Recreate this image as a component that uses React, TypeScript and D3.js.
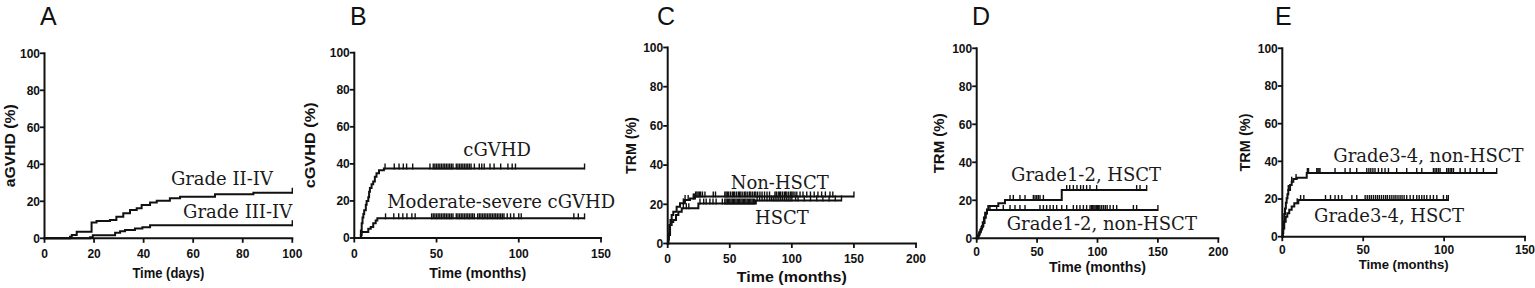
import React from 'react';
import * as d3 from 'd3';

type Pt = [number, number];

// ---------- Panel A (days) ----------
const aGradeIIIV: Pt[] = [[0,0],[10.3,0.9],[11,1.8],[13,3.6],[19,8.6],[21,9.4],[26.4,9.9],[29,11.7],[31.8,13.5],[34.5,15.3],[37.2,16.2],[39.2,18],[42.6,19.4],[45.3,20.3],[50.6,21.6],[54.7,22.5],[68.8,23.8],[84.3,24.6],[100,24.6]];
const aGradeIIIIV: Pt[] = [[0,0],[18.4,0.6],[19.5,1.6],[28.5,3],[30.5,3.8],[32.5,4.5],[36.5,5.3],[39.5,6],[42.6,7],[100,7]];
const aCensII: number[] = [100];
const aCensIII: number[] = [100];

// ---------- Panel B (months) ----------
const bCGVHD: Pt[] = [[0,0],[3.5,0],[4,4],[4.5,8],[5,11],[5.5,13],[6,15],[7,18],[7.5,20],[8.5,22],[9,25],[9.5,27],[10.5,29],[11.5,30.5],[12.5,33],[13.5,35],[15,36.5],[18,37.5],[140,37.5]];
const bModSev: Pt[] = [[0,0],[3.5,0],[4,1.5],[4.5,3.3],[8,3.3],[8.5,5],[10,6],[11.5,8],[13,9.5],[14,10.6],[140,10.6]];
const bCensCGVHD: number[] = [18.7,24.3,27.2,29.8,31.8,35.5,46,48,49,50,51,52,53,54,55,56,57,58,59,60,62,63,64,65,66,67,68,69,70,71,73,76,77.5,79,82.5,85,89,93.4,96,98,140];
const bCensModSev: number[] = [19,24,27,29.5,32,35,37,47,48,49,50,51,52,53,54,55,56,57,58,59,60,62,63,64,65,66,67,68,69,70,71,72,73,75,76,77,78,79,80,81,82,83,84,85,86,87,88,89,90,91,93,95,97,100,101.5,133.5,136.2,140];

// ---------- Panel C (months) ----------
const cNonHSCT: Pt[] = [[0,0],[0.5,5],[1.3,9.4],[2.2,12],[3.2,14.5],[4.5,16.2],[7.2,18.8],[9.9,20.5],[13.9,22.2],[18,23],[22,24],[150,24]];
const cHSCT: Pt[] = [[0,0],[0.5,2],[1,4.3],[1.9,9.4],[3.2,11],[4.5,12],[6.7,14.5],[8.6,16.2],[11.3,18],[24.7,20.4],[71,22],[140,22]];
const cCensNon: number[] = [12.6,14,16.5,20.6,21.5,22.5,23.5,24.5,25.5,26.5,28,30,36.7,38.5,46,47,48,49,50.5,52,53,54,55.5,57,58,59,60.5,62,63,64.5,66,67,68.5,70,71,72.5,74.3,76,78,80,82,86.4,87.5,89,90,91,92.5,94,95,96,97.5,99,100,101,102.5,104,106.6,109,112,115,118,121,124,127,130.7,133,150];
const cCensHSCT: number[] = [12.6,15,17,26,29,31,34,36.5,39,44,46,47,48,49,50,51,52,53,54,55,56,57,58,59,60,61,62,63,64,65,66,67,68,69,70,72,74,76,78,80,82,83.5,85,86.5,88,89.5,91,92.5,94,95.5,97,98.5,100,103,105,110,115,120,125,130,135,140];

// ---------- Panel D (months) ----------
const dHSCT: Pt[] = [[0,0],[1,1.5],[2,3],[3,4.5],[4,6],[5,8.5],[6,11],[7,13.5],[8.5,15],[9.6,17],[17.9,18.4],[23.4,20.2],[70.4,25.4],[140.7,25.4]];
const dNonHSCT: Pt[] = [[0,0],[1.5,2],[2.5,3.5],[3.5,5],[4.5,6.5],[5.5,8],[6.5,10.8],[7.5,13],[8.5,14.9],[150,14.9]];
const dCensHSCT: number[] = [27.6,30.3,35.8,40,46.9,48.3,49.7,51,52.4,55.2,74.5,77,80,83,86,88.3,91,93.8,99.3,132.4,135.2,140.7];
const dCensNon: number[] = [8.3,11,16.5,22,27.6,31.7,35.8,40,52.4,55.2,57.9,60.7,63.4,66.2,70.4,74.5,80,82.8,85.5,88.3,91,93.8,95,96,97,98,99,100,101,102,103.5,105,106.5,108,110.4,113.1,115.9,129.7,132.4,150];

// ---------- Panel E (months) ----------
const eNonHSCT: Pt[] = [[0,0],[0.3,4],[0.6,8],[1.2,12],[1.67,15],[2.2,18],[2.7,20.4],[3.2,22.5],[3.7,24.8],[4.8,27.4],[5.8,29.2],[6.8,30.6],[8.9,31.3],[15.1,33.8],[132.5,33.8]];
const eHSCT: Pt[] = [[0,0],[0.3,2],[0.6,4.4],[1.2,8],[2.1,10.6],[3.1,12.4],[4.3,14.3],[5.8,16],[7.4,17.7],[9.9,19.5],[102.6,19.5]];
const eCensNon: number[] = [3.7,5.8,8.5,15.5,16.2,21.3,22,22.7,23.3,32.6,38.8,41.9,46,52.2,53.5,54.7,56,57.3,59.4,61.5,63.5,65.6,70.7,76.9,83.1,86.2,93.4,94.4,95.4,96.5,97.5,101.6,102.6,103.7,104.7,105.8,109.9,113,116.1,120.2,124.3,132.5];
const eCensHSCT: number[] = [9.2,11.3,13.3,26.7,29.8,32.6,34.7,36.8,43,46,51.2,52.5,53.8,55,56.3,57.6,58.8,60,61.3,62.6,63.9,65,66.4,67.7,69,70.2,71.5,72.8,74,75.3,76.9,79,81,83.1,84.6,86.2,87.7,89.3,91.4,93.4,95.5,99.6,101.6,102.6];

// ---------- Tick values / labels ----------
const yTicks = [0, 20, 40, 60, 80, 100];
const xTicksA = [0, 20, 40, 60, 80, 100];
const xTicks150 = [0, 50, 100, 150];
const xTicks200 = [0, 50, 100, 150, 200];

interface Series { pts: Pt[]; cens: number[]; label: string; lx: number; ly: number; }
interface PanelCfg {
  letter: string; letterX: number;
  left: number; right: number; top: number; bottom: number;
  xMax: number; xTicks: number[];
  yTitle: string; yTitleX: number; yTitleLen: number;
  xTitle: string; xTitleBase: number; xTitleLen: number; xTitleSize: number;
  xLabelBase: number;
  series: Series[];
}

const panels: PanelCfg[] = [
  { letter: 'A', letterX: 40, left: 44.5, right: 292.3, top: 53.3, bottom: 238.3, xMax: 100, xTicks: xTicksA,
    yTitle: 'aGVHD (%)', yTitleX: 15, yTitleLen: 83, xTitle: 'Time (days)', xTitleBase: 278, xTitleLen: 72, xTitleSize: 15, xLabelBase: 257.5,
    series: [
      { pts: aGradeIIIV, cens: aCensII, label: 'Grade II-IV', lx: 51, ly: 28.8 },
      { pts: aGradeIIIIV, cens: aCensIII, label: 'Grade III-IV', lx: 55.9, ly: 11 },
    ] },
  { letter: 'B', letterX: 350, left: 354.3, right: 601, top: 52.7, bottom: 238, xMax: 150, xTicks: xTicks150,
    yTitle: 'cGVHD (%)', yTitleX: 315, yTitleLen: 86, xTitle: 'Time (months)', xTitleBase: 278, xTitleLen: 97, xTitleSize: 15, xLabelBase: 257.5,
    series: [
      { pts: bCGVHD, cens: bCensCGVHD, label: 'cGVHD', lx: 66.3, ly: 44.3 },
      { pts: bModSev, cens: bCensModSev, label: 'Moderate-severe cGVHD', lx: 20, ly: 16.4 },
    ] },
  { letter: 'C', letterX: 657, left: 667.7, right: 916, top: 47.5, bottom: 243.5, xMax: 200, xTicks: xTicks200,
    yTitle: 'TRM (%)', yTitleX: 636, yTitleLen: 57, xTitle: 'Time (months)', xTitleBase: 282, xTitleLen: 110, xTitleSize: 15, xLabelBase: 262.5,
    series: [
      { pts: cNonHSCT, cens: cCensNon, label: 'Non-HSCT', lx: 50.7, ly: 27.7 },
      { pts: cHSCT, cens: cCensHSCT, label: 'HSCT', lx: 70.3, ly: 9.9 },
    ] },
  { letter: 'D', letterX: 972, left: 976.7, right: 1218.3, top: 48.3, bottom: 238.3, xMax: 200, xTicks: xTicks200,
    yTitle: 'TRM (%)', yTitleX: 944, yTitleLen: 60, xTitle: 'Time (months)', xTitleBase: 272, xTitleLen: 97, xTitleSize: 14, xLabelBase: 256,
    series: [
      { pts: dHSCT, cens: dCensHSCT, label: 'Grade1-2, HSCT', lx: 28.4, ly: 30.3 },
      { pts: dNonHSCT, cens: dCensNon, label: 'Grade1-2, non-HSCT', lx: 24.8, ly: 4.4 },
    ] },
  { letter: 'E', letterX: 1275, left: 1282.3, right: 1525, top: 48.3, bottom: 236.7, xMax: 150, xTicks: xTicks150,
    yTitle: 'TRM (%)', yTitleX: 1250, yTitleLen: 58, xTitle: 'Time (months)', xTitleBase: 268.5, xTitleLen: 90, xTitleSize: 13, xLabelBase: 254,
    series: [
      { pts: eNonHSCT, cens: eCensNon, label: 'Grade3-4, non-HSCT', lx: 31.5, ly: 39.8 },
      { pts: eHSCT, cens: eCensHSCT, label: 'Grade3-4, HSCT', lx: 19.6, ly: 8 },
    ] },
];

const SANS = "'Liberation Sans', Arial, Helvetica, sans-serif";
const SERIF = "'DejaVu Serif', serif";

function valueAt(pts: Pt[], t: number): number {
  let v = pts[0][1];
  for (const [tx, ty] of pts) if (tx <= t + 1e-9) v = ty;
  return v;
}

function Panel({ p }: { p: PanelCfg }) {
  const x = d3.scaleLinear().domain([0, p.xMax]).range([p.left, p.right]);
  const y = d3.scaleLinear().domain([0, 100]).range([p.bottom, p.top]);
  const line = d3.line<Pt>().x(d => x(d[0])).y(d => y(d[1])).curve(d3.curveStepAfter);
  const midY = (p.top + p.bottom) / 2;
  const midX = (p.left + p.right) / 2;
  return (
    <g>
      <text x={p.letterX} y={25} fontFamily={SANS} fontSize={25} fill="#111">{p.letter}</text>
      {p.series.map((s, i) => (
        <g key={i}>
          <path d={line(s.pts) || ''} fill="none" stroke="#111" strokeWidth={2} />
          {s.cens.map((c, j) => {
            const yy = y(valueAt(s.pts, c));
            return <line key={j} x1={x(c)} x2={x(c)} y1={yy + 1} y2={yy - 5} stroke="#111" strokeWidth={1.4} />;
          })}
          <text x={x(s.lx)} y={y(s.ly)} fontFamily={SERIF} fontSize={18} fill="#1a1a1a">{s.label}</text>
        </g>
      ))}
      <line x1={p.left} x2={p.left} y1={p.top - 1} y2={p.bottom + 1} stroke="#111" strokeWidth={2} />
      <line x1={p.left - 1} x2={p.right + 1} y1={p.bottom} y2={p.bottom} stroke="#111" strokeWidth={2} />
      {yTicks.map(t => (
        <g key={'y' + t}>
          <line x1={p.left - 4.5} x2={p.left} y1={y(t)} y2={y(t)} stroke="#111" strokeWidth={1.8} />
          <text x={p.left - 4.5} y={y(t)} dy="0.36em" textAnchor="end" fontFamily={SANS} fontWeight="bold" fontSize={12} fill="#111">{t}</text>
        </g>
      ))}
      {p.xTicks.map(t => (
        <g key={'x' + t}>
          <line x1={x(t)} x2={x(t)} y1={p.bottom} y2={p.bottom + 4.5} stroke="#111" strokeWidth={1.8} />
          <text x={x(t)} y={p.xLabelBase} textAnchor="middle" fontFamily={SANS} fontWeight="bold" fontSize={12} fill="#111">{t}</text>
        </g>
      ))}
      <text x={midX} y={p.xTitleBase} textAnchor="middle" fontFamily={SANS} fontWeight="bold" fontSize={p.xTitleSize}
        textLength={p.xTitleLen} lengthAdjust="spacingAndGlyphs" fill="#111">{p.xTitle}</text>
      <text transform={`translate(${p.yTitleX},${midY}) rotate(-90)`} textAnchor="middle" fontFamily={SANS} fontWeight="bold" fontSize={15}
        textLength={p.yTitleLen} lengthAdjust="spacingAndGlyphs" fill="#111">{p.yTitle}</text>
    </g>
  );
}

export default function App() {
  return (
    <svg width={1535} height={288} viewBox="0 0 1535 288"
      style={{ position: 'absolute', left: 0, top: 0, background: '#fff', display: 'block' }}>
      <rect x={0} y={0} width={1535} height={288} fill="#fff" />
      {panels.map(p => <Panel key={p.letter} p={p} />)}
    </svg>
  );
}
